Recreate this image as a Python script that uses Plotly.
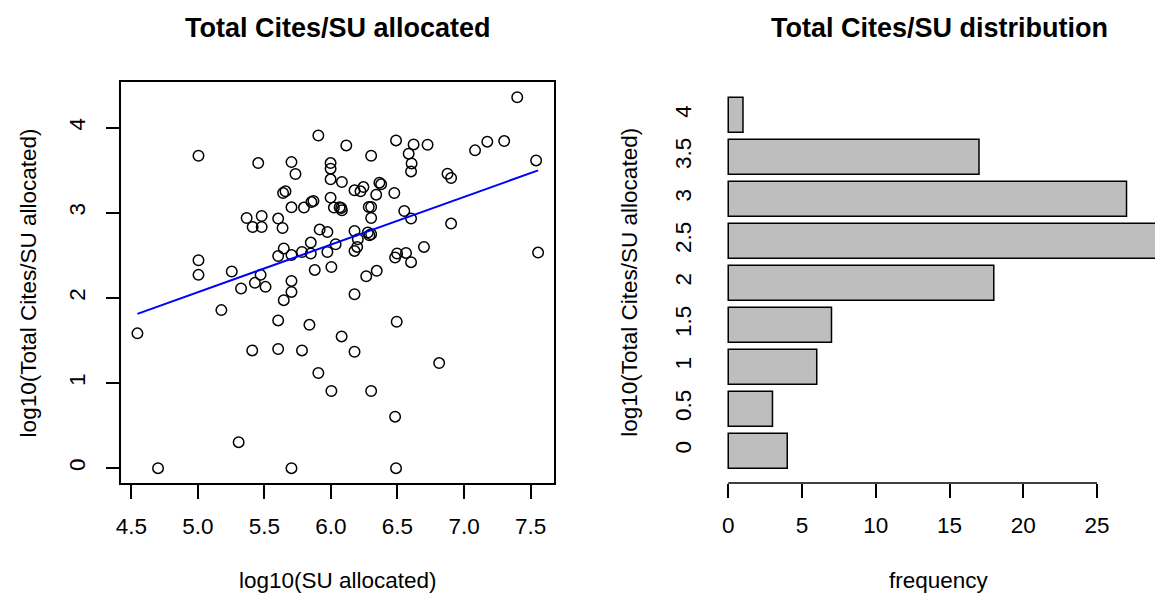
import numpy as np
import plotly.graph_objects as go

# ---------------- data ----------------
su_log10 = [5.905, 5.004, 5.453, 5.703, 5.733, 5.997, 5.997, 5.997, 5.640, 5.658,
            5.853, 5.868, 5.997, 6.022, 5.703, 5.797, 5.366, 5.479, 5.411, 5.479,
            5.603, 5.636, 5.915, 5.973, 5.004, 5.004, 5.254, 5.645, 5.603, 5.703,
            5.782, 5.848, 5.848, 5.973, 6.035, 5.878, 6.003, 5.471, 5.428, 5.703,
            7.400, 6.115, 6.489, 6.621, 6.726, 7.083, 7.175, 7.302, 7.542, 6.302,
            6.584, 6.606, 6.602, 6.082, 6.177, 6.222, 6.244, 6.364, 6.377, 6.340,
            6.476, 6.876, 6.903, 6.065, 6.077, 6.082, 6.284, 6.302, 6.302, 6.551,
            6.602, 6.903, 6.177, 6.277, 6.302, 6.289, 6.202, 6.177, 6.197, 6.265,
            6.344, 6.482, 6.497, 6.564, 6.602, 6.699, 7.557, 5.508, 5.324, 5.703,
            5.645, 6.177, 4.545, 5.176, 5.603, 5.838, 6.494, 6.080, 5.408, 5.603,
            5.782, 6.177, 6.813, 5.905, 6.003, 6.302, 6.482, 5.306, 4.700, 5.703,
            6.489]
cites_log10 = [3.907, 3.669, 3.583, 3.594, 3.454, 3.583, 3.517, 3.392, 3.231, 3.251,
               3.125, 3.137, 3.177, 3.060, 3.063, 3.060, 2.938, 2.961, 2.832, 2.832,
               2.931, 2.821, 2.802, 2.774, 2.442, 2.270, 2.309, 2.579, 2.492, 2.504,
               2.539, 2.649, 2.521, 2.539, 2.630, 2.328, 2.363, 2.270, 2.176, 2.199,
               4.356, 3.790, 3.849, 3.802, 3.798, 3.732, 3.834, 3.841, 3.614, 3.669,
               3.693, 3.579, 3.485, 3.360, 3.263, 3.251, 3.301, 3.353, 3.333, 3.212,
               3.231, 3.458, 3.407, 3.063, 3.055, 3.028, 3.067, 3.067, 2.938, 3.020,
               2.931, 2.872, 2.785, 2.767, 2.747, 2.735, 2.688, 2.551, 2.598, 2.254,
               2.317, 2.474, 2.521, 2.528, 2.419, 2.598, 2.532, 2.129, 2.110, 2.070,
               1.973, 2.043, 1.583, 1.856, 1.735, 1.683, 1.719, 1.547, 1.383, 1.399,
               1.383, 1.367, 1.234, 1.117, 0.906, 0.906, 0.605, 0.305, 0.0, 0.0,
               0.0]

# fitted regression line
fit_intercept = -0.7305
fit_slope = 0.5594

# histogram of log10(Total Cites/SU allocated)
hist_labels = ["0", "0.5", "1", "1.5", "2", "2.5", "3", "3.5", "4"]
hist_counts = [4, 3, 6, 7, 18, 29, 27, 17, 1]

scatter_xticks = [4.5, 5.0, 5.5, 6.0, 6.5, 7.0, 7.5]
scatter_yticks = [0, 1, 2, 3, 4]
hist_xticks = [0, 5, 10, 15, 20, 25]

# ---------------- layout helpers ----------------
W, H = 1155, 593
FONT = "Liberation Sans, Arial, Helvetica, sans-serif"
AX_FS = 22.5
TITLE_FS = 27


def px_x(p):
    return p / W


def px_y(p):
    return 1 - p / H


def r_range(vals):
    lo, hi = min(vals), max(vals)
    d = (hi - lo) * 0.04
    return [lo - d, hi + d]


fig = go.Figure()

# scatter points
fig.add_trace(go.Scatter(
    x=su_log10, y=cites_log10, mode="markers",
    marker=dict(symbol="circle-open", size=10.5, color="black",
                line=dict(width=1.5, color="black")),
    xaxis="x", yaxis="y", showlegend=False, hoverinfo="x+y"))

# regression line
fx = np.array([min(su_log10), max(su_log10)])
fig.add_trace(go.Scatter(
    x=fx, y=fit_intercept + fit_slope * fx, mode="lines",
    line=dict(color="#0000FF", width=2), xaxis="x", yaxis="y",
    showlegend=False))

# horizontal histogram bars
fig.add_trace(go.Bar(
    x=hist_counts, y=list(range(len(hist_counts))), orientation="h",
    marker=dict(color="#BEBEBE", line=dict(color="black", width=1.5)),
    xaxis="x2", yaxis="y2", showlegend=False))

plot_top, plot_bot = 82.4, 483.0
tickfont = dict(family=FONT, size=AX_FS, color="black")

fig.update_layout(
    width=W, height=H,
    margin=dict(l=0, r=0, t=0, b=0),
    paper_bgcolor="white", plot_bgcolor="white",
    bargap=1 - 1 / 1.2,
    font=dict(family=FONT, color="black"),
    xaxis=dict(domain=[px_x(116), px_x(551)], range=r_range(su_log10),
               anchor="y", showgrid=False, zeroline=False,
               showline=True, mirror=True, linecolor="black", linewidth=1.5,
               ticks="outside", ticklen=14, tickwidth=1.5, tickcolor="black",
               tickvals=scatter_xticks, tickformat=".1f", tickfont=tickfont,
               ticklabelstandoff=8),
    yaxis=dict(domain=[px_y(plot_bot), px_y(plot_top)], range=r_range(cites_log10),
               anchor="x", showgrid=False, zeroline=False,
               showline=True, mirror=True, linecolor="black", linewidth=1.5,
               ticks="outside", ticklen=14, tickwidth=1.5, tickcolor="black",
               tickvals=scatter_yticks, tickangle=-90, tickfont=tickfont,
               ticklabelstandoff=12),
    xaxis2=dict(domain=[px_x(720.5), 1.0], range=[-0.371, 28.93],
                anchor="y2", showgrid=False, zeroline=False, showline=False,
                ticks="outside", ticklen=14, tickwidth=1.5, tickcolor="black",
                tickvals=hist_xticks, tickfont=tickfont, ticklabelstandoff=8),
    yaxis2=dict(domain=[px_y(plot_bot), px_y(plot_top)],
                range=[-0.77, len(hist_counts) - 1 + 0.77],
                anchor="x2", showgrid=False, zeroline=False, showline=False,
                ticks="", tickvals=list(range(len(hist_labels))),
                ticktext=hist_labels, tickangle=-90, tickfont=tickfont,
                ticklabelstandoff=26),
)

# histogram axis line spans only the tick range (as in R)
fig.add_shape(type="line", xref="x2", yref="paper",
              x0=hist_xticks[0], x1=hist_xticks[-1],
              y0=px_y(plot_bot), y1=px_y(plot_bot),
              line=dict(color="black", width=1.5))

ann = []
ann.append(dict(text="<b>Total Cites/SU allocated</b>", x=px_x(333.5), y=px_y(28),
                font=dict(size=TITLE_FS, family=FONT, color="black")))
ann.append(dict(text="<b>Total Cites/SU distribution</b>", x=px_x(938.8), y=px_y(28),
                font=dict(size=TITLE_FS, family=FONT, color="black")))
ann.append(dict(text="log10(SU allocated)", x=px_x(333.5), y=px_y(580),
                font=dict(size=AX_FS, family=FONT, color="black")))
ann.append(dict(text="frequency", x=px_x(938.3), y=px_y(580),
                font=dict(size=AX_FS, family=FONT, color="black")))
ann.append(dict(text="log10(Total Cites/SU allocated)", x=px_x(23), y=px_y(282.5),
                textangle=-90, font=dict(size=AX_FS, family=FONT, color="black")))
ann.append(dict(text="log10(Total Cites/SU allocated)", x=px_x(626.5), y=px_y(282.5),
                textangle=-90, font=dict(size=AX_FS, family=FONT, color="black")))
for a in ann:
    a.update(xref="paper", yref="paper", xanchor="center", yanchor="middle",
             showarrow=False)
fig.update_layout(annotations=ann)

fig.write_html(
    "out.html",
    config={"displayModeBar": False},
    post_script="document.body.style.margin='0px';document.body.style.overflow='hidden';",
)
